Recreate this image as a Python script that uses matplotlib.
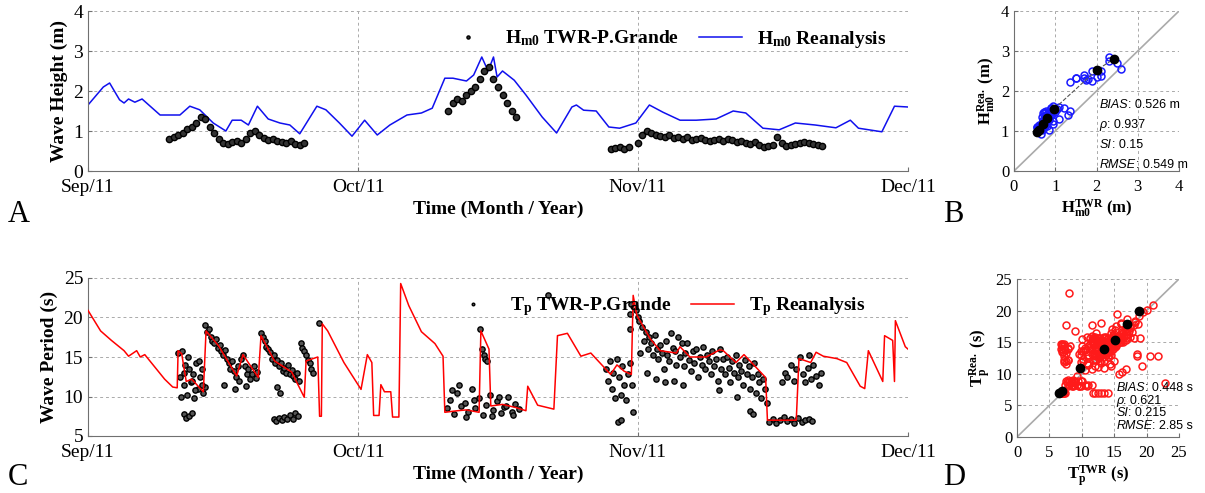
import numpy as np
import matplotlib
matplotlib.use("Agg")
import matplotlib.pyplot as plt

plt.rcParams['font.family'] = ['Liberation Serif', 'DejaVu Serif']
plt.rcParams['mathtext.fontset'] = 'custom'
plt.rcParams['mathtext.rm'] = 'Liberation Serif:bold'
plt.rcParams['mathtext.bf'] = 'Liberation Serif:bold'
plt.rcParams['mathtext.it'] = 'Liberation Serif:italic:bold'

# ---------------- data (time in days since 1 Sep 2011) ----------------
month_ticks = [0, 30, 61, 91]
month_labels = ['Sep/11', 'Oct/11', 'Nov/11', 'Dec/11']

hs_rea_t = [0,1.7,2.4,3.5,4,4.5,5.2,6,8,10.2,11.3,12.4,13.9,15.3,16,17,17.8,18.8,20,21.3,22.4,23.5,25.4,26.4,27.9,29.3,30.7,32.1,33.5,35.4,37,38.2,39.6,40.5,42,42.8,43.7,44.4,45,45.4,46,47.3,48.6,50.4,52,53.7,54.2,55,56.4,57.8,59,60.8,62.3,63.8,65.7,67.5,69.7,71.6,73,74.9,76.7,78.5,80.7,83,84.6,85.5,88.1,89.5,91]
hs_rea_v = [1.65,2.1,2.2,1.78,1.7,1.8,1.72,1.8,1.4,1.4,1.62,1.53,1.2,1.0,1.27,1.27,1.15,1.62,1.3,1.2,1.15,0.93,1.62,1.53,1.2,0.87,1.27,0.9,1.15,1.4,1.45,1.57,2.32,2.32,2.25,2.4,2.85,2.5,2.85,2.35,2.5,2.27,1.9,1.35,0.95,1.6,1.65,1.52,1.5,1.1,1.07,1.2,1.65,1.47,1.27,1.27,1.3,1.5,1.45,1.07,1.03,1.2,1.15,1.08,1.27,1.07,0.98,1.62,1.6]

hs_twr_seg_start = [9.0, 40.0, 58.0, 61.0]
hs_twr_seg_vals = [
    [0.8,0.85,0.9,0.95,1.05,1.1,1.2,1.35,1.3,1.1,0.95,0.8,0.7,0.68,0.72,0.75,0.7,0.8,0.95,1.0,0.9,0.82,0.78,0.8,0.75,0.72,0.7,0.75,0.68,0.65,0.7],
    [1.5,1.7,1.8,1.75,1.9,2.0,2.1,2.3,2.5,2.6,2.3,2.1,1.9,1.7,1.5,1.35],
    [0.55,0.58,0.6,0.55,0.6],
    [0.7,0.9,1.0,0.95,0.9,0.88,0.85,0.9,0.82,0.85,0.8,0.85,0.78,0.8,0.82,0.78,0.75,0.78,0.8,0.76,0.8,0.78,0.72,0.75,0.7,0.68,0.72,0.65,0.6,0.62,0.65,0.85,0.7,0.62,0.65,0.68,0.7,0.72,0.7,0.68,0.65,0.62],
]
hs_twr_step = 0.5

tp_rea_t = [0,1.4,2.6,4,4.5,5.4,5.8,6.3,8.5,9.4,9.9,10.0,10.4,10.9,11.5,12.8,13.1,14.5,16.5,17.2,18.9,19.2,20.7,22.6,24.0,24.2,25.5,25.7,25.9,26.0,26.6,28.4,30.3,31.0,31.5,31.7,32.3,32.5,32.9,33.6,33.8,34.5,34.7,35.6,37,38.5,39.4,39.6,41,42,43.4,43.6,44.5,44.7,46,47.5,48.6,48.8,49.9,51.7,52.1,53.2,54.7,55.8,58,58.7,59.5,60.3,60.5,60.9,62.4,63.5,65.3,65.7,66.8,68.6,70.1,70.5,71.9,72.8,73.8,75.2,75.4,78.6,78.9,80.2,80.8,81.6,83.1,84.2,85.7,86.2,86.6,88.2,88.4,89.3,89.5,89.6,90.7,91]
tp_rea_v = [20.9,18.3,17.1,15.8,15.1,15.8,15.0,15.3,12.2,11.2,11.1,15.8,15.4,11.9,12.2,10.6,18.3,16.4,12.6,15.3,12.4,17.7,14.5,13.1,9.9,14.5,15.0,7.5,7.5,19.2,18.3,14.3,10.9,15.3,14.3,7.6,7.6,11.5,10.6,10.6,7.4,7.4,24.3,21.5,18.2,16.7,15.1,8.0,8.2,8.3,8.0,18.3,16.0,8.8,9.0,8.6,8.2,11.3,8.9,8.4,17.7,18.0,15.1,15.5,12.8,14.0,13.2,12.8,22.8,20.3,17.3,15.8,15.5,16.3,15.0,15.0,15.9,15.8,14.3,15.3,14.1,12.4,7.0,7.0,14.8,14.3,15.6,15.1,14.8,14.3,11.3,11.0,15.8,11.9,17.7,17.1,11.9,19.6,16.3,16.0]

tp_twr_t = [10.0,10.2,10.4,10.6,10.8,11.0,11.2,11.4,11.6,11.8,12.0,12.2,12.4,12.6,12.8,13.0,10.3,10.7,11.1,11.5,11.9,12.3,12.7,
            10.6,10.9,11.2,11.5,
            13.0,13.2,13.4,13.6,13.8,14.0,14.2,14.4,14.6,14.8,15.0,15.2,15.4,15.6,15.8,16.0,16.2,16.4,16.6,16.8,17.0,17.2,17.4,17.6,17.8,18.0,18.2,18.4,18.6,18.8,15.1,16.3,17.5,
            19.2,19.4,19.6,19.8,20.0,20.2,20.4,20.6,20.8,21.0,21.2,21.4,21.6,21.8,22.0,22.2,22.4,22.6,22.8,23.0,23.2,23.4,21.0,21.3,
            20.6,20.9,21.2,21.5,21.8,22.1,22.4,22.7,23.0,23.3,
            23.6,23.8,24.0,24.2,24.4,24.6,24.8,25.0,25.6,
            39.8,40.2,40.6,41.0,41.4,41.8,42.2,42.6,43.0,43.4,43.8,44.2,44.6,45.0,45.4,45.8,46.2,46.6,47.0,47.4,47.8,40.4,41.2,42.0,42.8,44.8,45.6,46.4,47.2,
            43.5,43.7,43.9,44.1,44.3,
            57.5,57.7,57.9,58.1,58.3,58.5,58.7,58.9,59.1,59.3,59.5,59.7,59.9,60.1,58.8,59.2,60.2,60.3,60.2,60.4,60.5,51.1,
            60.8,61.0,61.2,61.3,61.5,61.7,61.9,62.1,62.3,62.5,62.7,62.9,63.1,63.3,63.5,63.7,63.9,64.1,64.3,64.5,64.7,64.9,65.1,65.3,65.5,65.7,65.9,66.1,66.3,66.5,66.7,66.9,67.1,67.3,67.5,67.7,67.9,68.1,68.3,68.5,68.7,68.9,69.1,69.3,69.5,69.7,69.9,70.1,70.3,70.5,70.7,70.9,71.1,71.3,71.5,71.7,71.9,72.1,72.3,72.5,72.7,72.9,73.1,73.3,73.5,73.7,73.9,74.1,74.3,74.5,74.7,74.9,75.1,75.3,62.0,63.0,64.0,65.0,66.0,70.0,72.0,73.5,73.8,
            75.6,76.0,76.4,76.8,77.2,77.6,78.0,78.4,78.8,79.2,79.6,80.0,80.4,
            77.0,77.3,77.6,78.0,78.3,78.6,79.0,79.3,79.6,79.9,80.2,80.5,80.8,81.1,81.4,80.0]
tp_twr_v = [15.5,12.5,15.8,11.5,14.0,10.2,13.5,11.8,12.8,9.8,14.3,11.0,12.5,13.5,10.5,11.2,10.0,13.0,15.0,12.0,10.8,14.5,11.5,
            7.8,7.3,7.5,7.9,
            19.0,18.2,18.6,17.5,17.0,16.8,17.3,16.2,16.5,15.8,15.2,15.9,14.8,14.2,13.5,14.5,13.2,12.5,13.8,12.0,14.8,15.3,13.8,12.8,13.5,12.2,12.9,13.9,12.4,13.1,11.5,11.0,11.3,
            18.0,17.5,17.0,16.3,16.0,15.6,14.8,15.2,14.2,14.6,13.8,14.3,13.2,13.6,13.0,14.0,12.8,13.4,12.6,12.2,13.0,12.0,11.2,10.5,
            7.2,6.9,7.3,7.0,7.4,7.1,7.6,7.2,7.9,7.5,
            16.8,16.2,15.8,15.3,14.6,14.2,13.5,13.0,19.3,
            8.5,9.5,7.8,10.5,8.8,9.2,8.0,11.0,8.6,9.8,7.6,8.9,10.2,8.3,9.4,7.9,8.7,9.9,8.1,9.0,8.4,10.8,11.5,7.4,9.6,7.5,10.0,8.8,7.7,
            18.5,16.0,15.3,14.7,14.5,
            13.5,12.0,14.5,11.0,13.0,9.8,14.8,12.5,10.2,13.8,11.5,9.5,12.8,14.2,6.8,7.0,20.5,21.7,18.5,11.5,8.0,22.9,
            21.0,20.0,19.5,15.5,18.8,17.0,18.2,16.0,17.5,16.8,15.2,17.8,16.0,14.8,16.5,15.5,13.5,17.0,15.2,14.5,18.0,16.2,15.8,14.0,17.5,15.0,16.8,13.8,15.5,16.8,14.6,13.2,15.8,14.2,16.0,12.5,15.0,14.0,16.3,13.5,15.2,14.5,12.8,15.8,13.9,14.8,12.0,16.0,13.5,14.8,12.8,15.0,13.6,11.8,14.5,13.0,15.2,12.5,14.0,13.2,11.5,14.6,12.8,13.8,11.0,12.5,14.2,10.5,12.8,11.8,9.8,12.2,11.0,9.2,13.0,12.2,11.8,12.0,11.5,10.8,10.0,8.2,7.8,
            6.8,7.2,6.6,7.0,7.4,6.9,7.1,6.7,7.3,6.8,7.0,7.2,6.9,
            11.8,13.0,12.5,14.0,12.0,13.5,15.0,12.8,11.8,13.6,12.2,14.0,12.6,11.5,13.0,15.3]

hs_bin_x = [0.55, 0.6, 0.7, 0.8, 0.97, 2.0, 2.42]
hs_bin_y = [0.97, 1.03, 1.18, 1.32, 1.55, 2.52, 2.8]
tp_bin_x = [6.5, 7.0, 9.7, 13.5, 15.2, 17.0, 18.8]
tp_bin_y = [6.9, 7.2, 10.9, 13.9, 15.3, 17.9, 19.9]
stat_names = ['BIAS', 'ρ', 'SI', 'RMSE']
hs_stat_vals = [': 0.526 m', ': 0.937', ': 0.15', ': 0.549 m']
tp_stat_vals = [': 0.448 s', ': 0.621', ': 0.215', ': 2.85 s']

# ---------------- derived ----------------
hs_twr_t, hs_twr_v = [], []
for s, vals in zip(hs_twr_seg_start, hs_twr_seg_vals):
    hs_twr_t += list(s + hs_twr_step * np.arange(len(vals)))
    hs_twr_v += vals
hs_twr_t = np.array(hs_twr_t); hs_twr_v = np.array(hs_twr_v)
hs_pair = np.interp(hs_twr_t, hs_rea_t, hs_rea_v)
tp_pair = np.interp(tp_twr_t, tp_rea_t, tp_rea_v)

fig = plt.figure(figsize=(12.05, 4.93), dpi=100)
W, H = 1205, 493
def ax_at(l, t, r, b):
    return fig.add_axes([l / W, 1 - b / H, (r - l) / W, (b - t) / H])

axA = ax_at(88, 11, 908, 171)
axC = ax_at(88, 278, 908, 436)
axB = ax_at(1014, 11, 1179, 171)
axD = ax_at(1017, 279, 1179, 437)

def style(ax, ls=14):
    for s in ['top', 'right']:
        ax.spines[s].set_visible(False)
    for s in ['left', 'bottom']:
        ax.spines[s].set_color('#707070')
    ax.grid(True, color='#aaaaaa', linestyle=(0, (3, 3)), linewidth=0.7)
    ax.tick_params(direction='in', length=3, color='#707070', labelsize=ls)
    ax.tick_params(axis='x', pad=6)

# Panel A
style(axA)
axA.plot(hs_rea_t, hs_rea_v, color='#1010ee', lw=1.1, label='H$_{\\rm m0}$ Reanalysis', zorder=2)
axA.plot(hs_twr_t, hs_twr_v, 'o', ms=4.5, mfc='#333333', mec='black', mew=1.0, label='H$_{\\rm m0}$ TWR-P.Grande', zorder=3)
axA.set_xlim(0, 91); axA.set_ylim(0, 4)
axA.set_xticks(month_ticks); axA.set_xticklabels(month_labels)
axA.set_yticks([0, 1, 2, 3, 4])
axA.set_ylabel('Wave Height (m)', fontsize=14, fontweight='bold')
axA.set_xlabel('Time (Month / Year)', fontsize=14, fontweight='bold', labelpad=3)
h, l = axA.get_legend_handles_labels()
axA.legend([h[1], h[0]], [l[1], l[0]], loc='upper right', ncol=2, frameon=False,
           markerscale=0.5, handlelength=2.2, columnspacing=1.0, bbox_to_anchor=(0.995, 1.0),
           prop={'weight': 'bold', 'size': 14})

# Panel C
style(axC)
axC.plot(tp_rea_t, tp_rea_v, color='#ff0000', lw=1.1, label='T$_{\\rm p}$ Reanalysis', zorder=3)
axC.plot(tp_twr_t, tp_twr_v, 'o', ms=3.8, mfc='#555555', mec='black', mew=1.0, label='T$_{\\rm p}$ TWR-P.Grande', zorder=2)
axC.set_xlim(0, 91); axC.set_ylim(5, 25)
axC.set_xticks(month_ticks); axC.set_xticklabels(month_labels)
axC.set_yticks([5, 10, 15, 20, 25])
axC.set_ylabel('Wave Period (s)', fontsize=14, fontweight='bold')
axC.set_xlabel('Time (Month / Year)', fontsize=14, fontweight='bold', labelpad=3)
h, l = axC.get_legend_handles_labels()
axC.legend([h[1], h[0]], [l[1], l[0]], loc='upper right', ncol=2, frameon=False,
           markerscale=0.5, handlelength=2.2, columnspacing=1.0, bbox_to_anchor=(0.97, 1.0),
           prop={'weight': 'bold', 'size': 14})

def stats(ax, x, ys, vals):
    for ypos, name, val in zip(ys, stat_names, vals):
        t1 = ax.text(x, ypos, name, fontsize=9, style='italic', family='Liberation Sans', va='baseline')
        ax.annotate(val, xy=(1, 0), xycoords=t1, fontsize=9, family='Liberation Sans', va='bottom')

# Panel B
style(axB, 12)
axB.plot([0, 4], [0, 4], color='#aaaaaa', lw=1.2)
axB.plot(hs_twr_v, hs_pair, 'o', ms=5, mfc='none', mec='#1a1aff', mew=1.1)
axB.plot(hs_bin_x, hs_bin_y, '--', color='#555555', lw=0.8)
axB.plot(hs_bin_x, hs_bin_y, 'o', ms=6, color='black')
axB.set_xlim(0, 4); axB.set_ylim(0, 4)
axB.set_xticks(range(5)); axB.set_yticks(range(5))
axB.set_xlabel('H$_{\\rm m0}^{\\rm TWR}$ (m)', fontsize=12, fontweight='bold', labelpad=2)
axB.set_ylabel('H$_{\\rm m0}^{\\rm Rea.}$ (m)', fontsize=12, fontweight='bold', labelpad=2)
stats(axB, 2.08, [1.58, 1.08, 0.58, 0.08], hs_stat_vals)

# Panel D
style(axD, 12)
axD.plot([0, 25], [0, 25], color='#aaaaaa', lw=1.2)
axD.plot(tp_twr_v, tp_pair, 'o', ms=5, mfc='none', mec='#ff1a1a', mew=1.1)
axD.plot(tp_bin_x, tp_bin_y, 'o', ms=6, color='black')
axD.set_xlim(0, 25); axD.set_ylim(0, 25)
axD.set_xticks(range(0, 26, 5)); axD.set_yticks(range(0, 26, 5))
axD.set_xlabel('T$_{\\rm p}^{\\rm TWR}$ (s)', fontsize=12, fontweight='bold', labelpad=2)
axD.set_ylabel('T$_{\\rm p}^{\\rm Rea.}$ (s)', fontsize=12, fontweight='bold', labelpad=2)
stats(axD, 15.3, [7.3, 5.3, 3.3, 1.3], tp_stat_vals)

for lab, x, y in [('A', 8, 222), ('B', 943, 222), ('C', 8, 485), ('D', 943, 485)]:
    fig.text(x / W, 1 - y / H, lab, fontsize=22)

fig.savefig('out.png', dpi=100)
